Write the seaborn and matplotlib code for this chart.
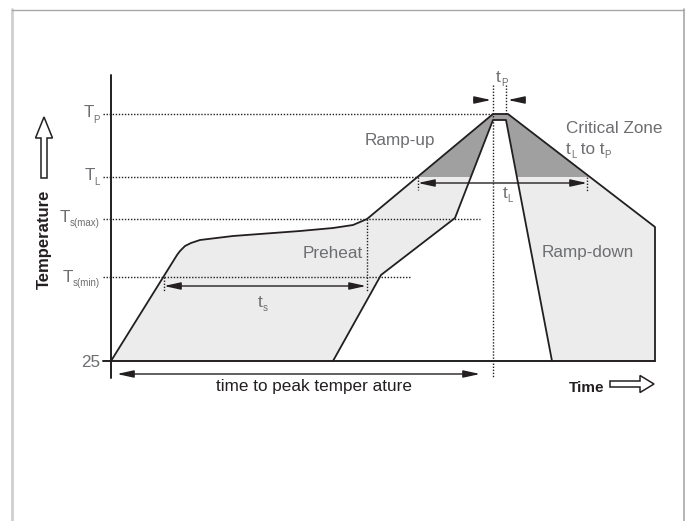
import matplotlib
matplotlib.use("Agg")
import matplotlib.pyplot as plt
import seaborn as sns
import numpy as np
import pandas as pd
from matplotlib.patches import Rectangle, FancyArrow
from matplotlib.lines import Line2D

# ---------------- data (schematic units: time, temperature) ----------------
outer_time = [0, 66, 69, 74, 80, 89, 122, 189, 222, 242, 256, 382, 397, 544, 544]
outer_temp = [0, 106, 110, 115, 118, 121, 125, 130, 133, 136, 142, 247, 247, 134, 0]
inner_time = [222, 270, 344, 382, 395, 441]
inner_temp = [0, 86, 143, 241, 241, 0]

level_values = [247, 184, 142, 84, 0]
level_main = ["T", "T", "T", "T", "25"]
level_sub = ["P", "L", "s(max)", "s(min)", ""]
level_line_end = [382, 307, 369, 299]

t_s_span = [53, 255]
t_L_span = [307, 476]
peak_span = [6, 369]
t_p_marks = [382, 395]
t_smax_time = 256

# ---------------- style ----------------
sns.set_theme(style="white")
plt.rcParams["font.family"] = ["Liberation Sans", "DejaVu Sans"]

INK = "#231f20"
GRAY_TXT = "#6d6e71"
LIGHT = "#ececec"
DARK = "#a0a0a0"
DOT = (0, (1, 1.2))
FS = 12.3
SUBFS = 7

fig = plt.figure(figsize=(6.87, 5.21), dpi=100)
ax = fig.add_axes([0, 0, 1, 1])
ax.set_xlim(-111, 576)
ax.set_ylim(-160, 361)
ax.axis("off")
renderer = fig.canvas.get_renderer()


def rich(x, y_px, parts, ha="left", color=GRAY_TXT, drop=4):
    """Place text made of (string, is_subscript) parts; y_px is the baseline in pixel rows."""
    arts, widths = [], []
    for s, is_sub in parts:
        t = ax.text(0, 0, s, fontsize=SUBFS if is_sub else FS, color=color,
                    va="baseline", ha="left")
        widths.append(t.get_window_extent(renderer).width)
        arts.append((t, is_sub))
    total = sum(widths)
    cx = x - total if ha == "right" else (x - total / 2 if ha == "center" else x)
    base = 361 - y_px
    for (t, is_sub), w in zip(arts, widths):
        t.set_position((cx, base - (drop if is_sub else 0)))
        cx += w


# figure frame
fig.add_artist(Line2D([12.5/687, 12.5/687], [0, 1 - 9/521], transform=fig.transFigure, color="#cfcfcf", lw=2))
fig.add_artist(Line2D([12/687, 684/687], [1 - 9.5/521, 1 - 9.5/521], transform=fig.transFigure, color="#a8a8a8", lw=1))
fig.add_artist(Line2D([684/687, 684/687], [0, 1 - 9/521], transform=fig.transFigure, color="#a8a8a8", lw=1.2))

# ---------------- fills ----------------
poly_t = outer_time + inner_time[::-1]
poly_T = outer_temp + inner_temp[::-1]
ax.fill(poly_t, poly_T, color=LIGHT, lw=0, zorder=1)
dark = ax.fill(poly_t, poly_T, color=DARK, lw=0, zorder=1.5)[0]
clip = Rectangle((-200, level_values[1]), 1000, 500, transform=ax.transData)
dark.set_clip_path(clip)

# ---------------- dotted guide lines ----------------
for v, end in zip(level_values[:4], level_line_end):
    ax.plot([-8, end], [v, v], color=INK, lw=1.0, ls=DOT, zorder=2)
ax.plot([t_p_marks[0]] * 2, [276, -17], color=INK, lw=1.0, ls=DOT, zorder=2)
ax.plot([t_p_marks[1]] * 2, [276, level_values[0]], color=INK, lw=1.0, ls=DOT, zorder=2)
ax.plot([t_smax_time] * 2, [level_values[2], 69], color=INK, lw=1.0, ls=DOT, zorder=2)
ax.plot([t_s_span[0]] * 2, [level_values[3], 69], color=INK, lw=1.0, ls=DOT, zorder=2)
ax.plot([t_L_span[0]] * 2, [level_values[1], 171], color=INK, lw=1.0, ls=DOT, zorder=2)
ax.plot([t_L_span[1]] * 2, [level_values[1], 170], color=INK, lw=1.0, ls=DOT, zorder=2)

# ---------------- profile lines ----------------
sns.lineplot(x=outer_time, y=outer_temp, sort=False, estimator=None, color=INK, lw=1.3, ax=ax, zorder=3)
sns.lineplot(x=inner_time, y=inner_temp, sort=False, estimator=None, color=INK, lw=1.3, ax=ax, zorder=3)
ax.plot([-8, 544], [0, 0], color=INK, lw=1.4, zorder=3)
ax.plot([0, 0], [-17, 286], color=INK, lw=1.4, zorder=3)

# ---------------- arrows ----------------
aprops = dict(arrowstyle="<|-|>,head_length=1.0,head_width=0.22", lw=1.0, color=INK,
              shrinkA=0, shrinkB=0, mutation_scale=10)
ax.annotate("", xy=(t_s_span[0], 75), xytext=(t_s_span[1], 75), arrowprops=aprops)
ax.annotate("", xy=(t_L_span[0], 178), xytext=(t_L_span[1], 178), arrowprops=aprops)
ax.annotate("", xy=(peak_span[0], -13), xytext=(peak_span[1], -13), arrowprops=aprops)
sprops = dict(arrowstyle="-|>,head_length=1.0,head_width=0.22", lw=1.0, color=INK,
              shrinkA=0, shrinkB=0, mutation_scale=10)
ax.annotate("", xy=(t_p_marks[0] - 2, 261), xytext=(t_p_marks[0] - 19, 261), arrowprops=sprops)
ax.annotate("", xy=(t_p_marks[1] + 2, 261), xytext=(t_p_marks[1] + 19, 261), arrowprops=sprops)

# hollow arrows
ax.add_patch(FancyArrow(-67, 183, 0, 61, width=6, head_width=17, head_length=21,
                        length_includes_head=True, fc="white", ec=INK, lw=1.1, zorder=4))
ax.add_patch(FancyArrow(499, -23, 44, 0, width=6, head_width=17, head_length=14,
                        length_includes_head=True, fc="white", ec=INK, lw=1.1, zorder=4))

# ---------------- texts ----------------
baseline_px = [117, 180, 222, 282, 367]
drops = [6, 5, 4, 4, 0]
for m, s, b, d in zip(level_main, level_sub, baseline_px, drops):
    parts = [(m, False)] + ([(s, True)] if s else [])
    rich(-11, b, parts, ha="right", drop=d)

rich(289, 145, [("Ramp-up", False)], ha="center")
rich(222, 258, [("Preheat", False)], ha="center")
rich(455, 133, [("Critical Zone", False)])
rich(455, 154, [("t", False), ("L", True), (" to t", False), ("P", True)])
rich(431, 257, [("Ramp-down", False)])
rich(392, 198, [("t", False), ("L", True)])
rich(147, 307, [("t", False), ("s", True)])
rich(385, 82, [("t", False), ("P", True)])
rich(203, 391, [("time to peak temper ature", False)], ha="center", color=INK)

ax.text(493, 361 - 392, "Time", ha="right", va="baseline", color=INK, fontsize=11, fontweight="bold")
ax.text(-67, 361 - 239, "Temperature", ha="center", va="center", rotation=90, color=INK,
        fontsize=12, fontweight="bold")

fig.savefig("out.png", dpi=100)
